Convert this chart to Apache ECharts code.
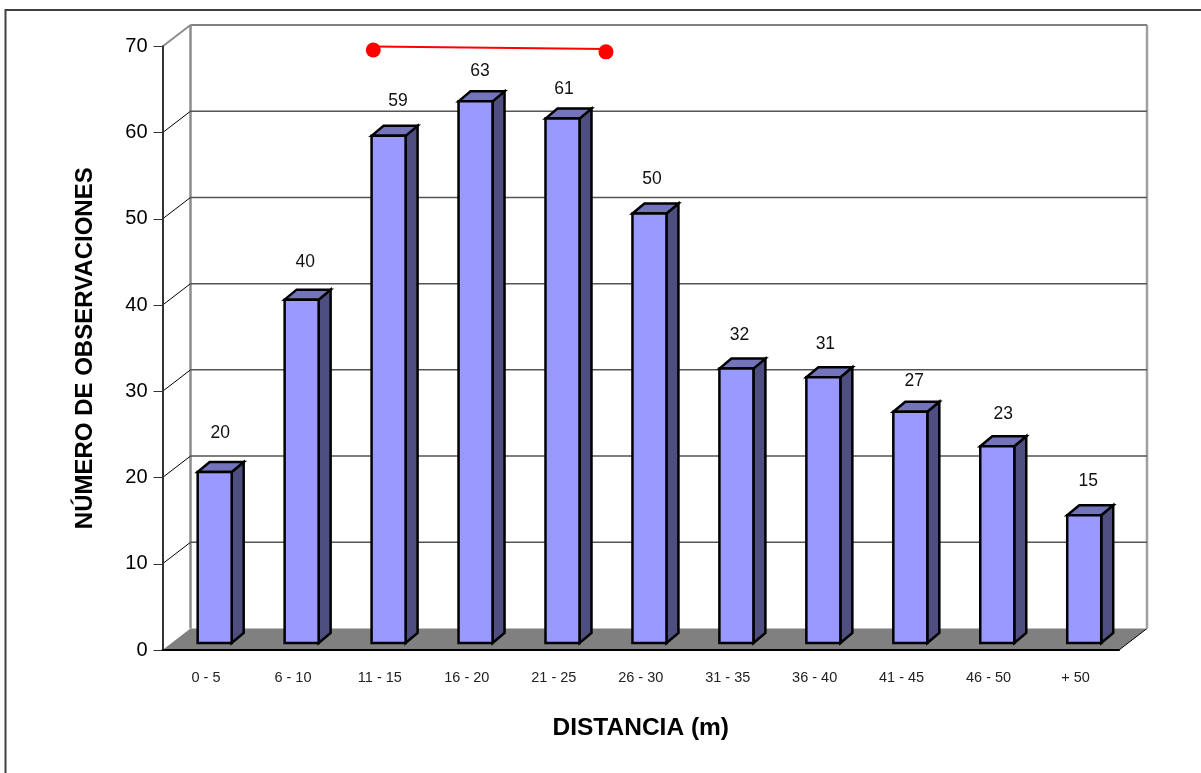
<!DOCTYPE html>
<html>
<head>
<meta charset="utf-8">
<style>
  html, body { margin: 0; padding: 0; background: #fff; }
  #chart { width: 1201px; height: 773px; }
</style>
</head>
<body>
<div id="chart"></div>
<script src="https://cdn.jsdelivr.net/npm/echarts@6/dist/echarts.min.js"></script>
<script>
// 数据
const categories = ['0 - 5', '6 - 10', '11 - 15', '16 - 20', '21 - 25', '26 - 30', '31 - 35', '36 - 40', '41 - 45', '46 - 50', '+ 50']
const observations = [20, 40, 59, 63, 61, 50, 32, 31, 27, 23, 15]
const yTicks = [0, 10, 20, 30, 40, 50, 60, 70]
// the red line does not sit on the categories, so it uses a hidden value axis
// in the original the line runs a little above its two dots
const redX = [2.424, 5.1]
const redLineY = [70, 69.72]
const redDotY = [69.6, 69.38]

// label offsets from the bar top, the original places them unevenly
const labelDx = [5.5, 3.5, 9.5, 4.5, 1.6, 2.6, 3, 2, 4, 6, 4]
const labelDy = [44.6, 43, 40, 36, 35, 40, 39, 39, 36, 38, 40]

const font = '"Liberation Sans", Arial, sans-serif'
const depthX = 28
const depthY = 21.5
const barOffsetX = 8.7
const barOffsetY = 5.5
const barWidth = 34
const barDepthX = 12
const barDepthY = 10

function renderWall(params, api) {
  const p = api.coord([0, api.value(0)])
  const size = api.size([1, 0])
  const x0 = p[0] - size[0] / 2
  const x1 = x0 + size[0] * categories.length
  const isTop = api.value(0) === yTicks[yTicks.length - 1]
  const isFloor = api.value(0) === 0
  const children = []
  if (!isFloor) {
    children.push({
      type: 'line',
      shape: { x1: x0, y1: p[1], x2: x0 + depthX, y2: p[1] - depthY },
      style: { stroke: isTop ? '#8c8c8c' : '#000', lineWidth: isTop ? 2 : 1 }
    })
    children.push({
      type: 'line',
      shape: { x1: x0 + depthX, y1: p[1] - depthY, x2: x1 + depthX, y2: p[1] - depthY },
      style: { stroke: isTop ? '#808080' : '#555', lineWidth: isTop ? 2 : 1.5 }
    })
  } else {
    children.push({
      type: 'polygon',
      shape: { points: [[x0, p[1]], [x0 + depthX, p[1] - depthY], [x1 + depthX, p[1] - depthY], [x1, p[1]]] },
      style: { fill: '#808080' }
    })
    children.push({
      type: 'line',
      shape: { x1: x1, y1: p[1], x2: x1 + depthX, y2: p[1] - depthY },
      style: { stroke: '#000', lineWidth: 1 }
    })
    // side edges of the back wall
    const top = api.coord([0, yTicks[yTicks.length - 1]])
    children.push({
      type: 'line',
      shape: { x1: x0 + depthX, y1: top[1] - depthY, x2: x0 + depthX, y2: p[1] - depthY },
      style: { stroke: '#8c8c8c', lineWidth: 2.5 }
    })
    children.push({
      type: 'line',
      shape: { x1: x1 + depthX, y1: top[1] - depthY, x2: x1 + depthX, y2: p[1] - depthY },
      style: { stroke: '#a0a0a0', lineWidth: 2.5 }
    })
  }
  return { type: 'group', children }
}

function renderBar(params, api) {
  const i = api.value(0)
  const v = api.value(1)
  const top = api.coord([i, v])
  const base = api.coord([i, 0])
  const left = top[0] + barOffsetX - barWidth / 2
  const right = left + barWidth
  const yTop = top[1] - barOffsetY
  const yBase = base[1] - 7
  const edge = { stroke: '#000', lineWidth: 2.5, lineJoin: 'miter' }
  return {
    type: 'group',
    children: [
      {
        type: 'polygon',
        shape: { points: [[right, yTop], [right + barDepthX, yTop - barDepthY], [right + barDepthX, yBase - barDepthY], [right, yBase]] },
        style: Object.assign({ fill: '#4e4e80' }, edge)
      },
      {
        type: 'polygon',
        shape: { points: [[left, yTop], [left + barDepthX, yTop - barDepthY], [right + barDepthX, yTop - barDepthY], [right, yTop]] },
        style: Object.assign({ fill: '#7474bc' }, edge)
      },
      {
        type: 'rect',
        shape: { x: left, y: yTop, width: barWidth, height: yBase - yTop },
        style: Object.assign({ fill: '#9999ff' }, edge)
      },
      {
        type: 'text',
        x: top[0] + barOffsetX + labelDx[i],
        y: top[1] - labelDy[i],
        style: {
          text: String(v),
          fontFamily: font,
          fontSize: 17.5,
          fill: '#111',
          align: 'center',
          verticalAlign: 'middle'
        }
      }
    ]
  }
}

const option = {
  animation: false,
  backgroundColor: '#fff',
  grid: { left: 162.5, top: 46.5, width: 956.5, height: 603.5 },
  xAxis: [
    {
      type: 'category',
      data: categories,
      z: 5,
      name: 'DISTANCIA (m)',
      nameLocation: 'middle',
      nameGap: 66,
      nameTextStyle: { fontFamily: font, fontSize: 24.5, fontWeight: 'bold', color: '#000' },
      axisLine: { lineStyle: { color: '#000', width: 2 } },
      axisTick: { length: 10, lineStyle: { color: '#555', width: 1 } },
      axisLabel: { fontFamily: font, fontSize: 14.5, color: '#222', margin: 20, interval: 0 }
    },
    { type: 'value', min: 0, max: 11, show: false }
  ],
  yAxis: {
    type: 'value',
    min: 0,
    max: 70,
    interval: 10,
    z: 5,
    name: 'NÚMERO DE OBSERVACIONES',
    nameLocation: 'middle',
    nameGap: 65,
    nameTextStyle: { fontFamily: font, fontSize: 24, fontWeight: 'bold', color: '#000' },
    splitLine: { show: false },
    axisLine: { show: true, lineStyle: { color: '#333', width: 2 } },
    axisTick: { show: true, length: 9, lineStyle: { color: '#333', width: 1 } },
    axisLabel: { fontFamily: font, fontSize: 20, color: '#000', margin: 15, padding: [0, 0, 6, 0] }
  },
  series: [
    {
      type: 'custom',
      name: 'pared',
      coordinateSystem: 'cartesian2d',
      renderItem: renderWall,
      data: yTicks.map(v => [v]),
      encode: { y: 0 },
      clip: false,
      silent: true,
      z: 1
    },
    {
      type: 'custom',
      name: 'observaciones',
      coordinateSystem: 'cartesian2d',
      renderItem: renderBar,
      data: observations.map((v, i) => [i, v]),
      encode: { x: 0, y: 1 },
      clip: false,
      z: 6
    },
    {
      type: 'line',
      xAxisIndex: 1,
      data: redX.map((x, i) => [x, redLineY[i]]),
      symbol: 'none',
      clip: false,
      lineStyle: { color: '#ff0000', width: 2 },
      z: 7
    },
    {
      type: 'scatter',
      xAxisIndex: 1,
      data: redX.map((x, i) => [x, redDotY[i]]),
      symbol: 'circle',
      symbolSize: 15,
      itemStyle: { color: '#ff0000', opacity: 1 },
      z: 7
    }
  ],
  graphic: [
    {
      type: 'polyline',
      shape: { points: [[5.5, 773], [5.5, 10], [1201, 10]] },
      style: { stroke: '#404040', lineWidth: 2, fill: 'none' }
    }
  ]
}

const chart = echarts.init(document.getElementById('chart'))
chart.setOption(option)
</script>
</body>
</html>
